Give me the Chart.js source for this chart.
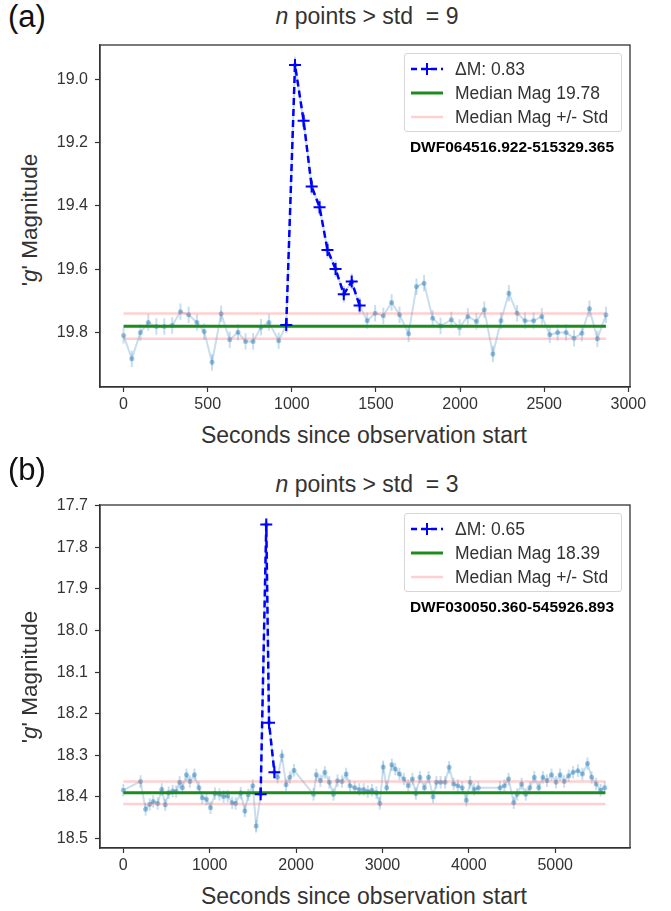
<!DOCTYPE html>
<html><head><meta charset="utf-8">
<script src="https://cdn.jsdelivr.net/npm/chart.js@4.4.1/dist/chart.umd.min.js"></script>
<style>
html,body{margin:0;padding:0;background:#fff;}
body{width:671px;height:911px;position:relative;overflow:hidden;font-family:"Liberation Sans",Arial,Helvetica,sans-serif;}
canvas{position:absolute;left:0;}
.t{position:absolute;white-space:nowrap;color:#333;transform:translate(-50%,-50%);line-height:1;}
.lab{position:absolute;white-space:nowrap;color:#111;font-size:31px;line-height:1;transform:translateY(-50%);}
.leg{position:absolute;border:1px solid #d6d6d6;border-radius:3px;background:rgba(255,255,255,0.85);box-sizing:border-box;}
.row{position:absolute;left:0;height:20px;transform:translateY(-50%);}
.row svg{position:absolute;left:5px;top:4px;}
.row span{position:absolute;left:50px;top:1px;font-size:17.5px;color:#333;white-space:nowrap;line-height:18px;}
.obj{position:absolute;white-space:nowrap;font-weight:bold;font-size:15.5px;color:#000;transform:translate(-50%,-50%);line-height:1;}
</style>
</head><body>

<div class="lab" style="left:8px;top:16px">(a)</div>
<div class="t" style="left:367px;top:16px;font-size:23px"><i>n</i> points &gt; std&nbsp; = 9</div>
<div class="t" style="left:30px;top:220px;font-size:22.5px;transform:translate(-50%,-50%) rotate(-90deg)">'<i>g</i>' Magnitude</div>
<div class="t" style="left:364px;top:435px;font-size:23px">Seconds since observation start</div>
<canvas id="ca" width="671" height="455" style="top:0"></canvas>
<div id="legA" class="leg" style="left:404px;top:53px;width:218px;height:79px"></div>
<div class="obj" style="left:512px;top:147px" id="objA"></div>

<div class="lab" style="left:8px;top:469px">(b)</div>
<div class="t" style="left:367px;top:484px;font-size:23px"><i>n</i> points &gt; std&nbsp; = 3</div>
<div class="t" style="left:30px;top:677px;font-size:22.5px;transform:translate(-50%,-50%) rotate(-90deg)">'<i>g</i>' Magnitude</div>
<div class="t" style="left:364px;top:896px;font-size:23px">Seconds since observation start</div>
<canvas id="cb" width="671" height="456" style="top:455px"></canvas>
<div id="legB" class="leg" style="left:404px;top:513px;width:218px;height:79px"></div>
<div class="obj" style="left:512px;top:607px" id="objB"></div>

<script>
// ---------- Panel (a) data ----------
const timeA = [0,49,100,147,195,242,289,338,387,436,479,526,580,631,680,725,770,817,864,922,967,1019,1070,1118,1165,1212,1260,1309,1356,1403,1448,1495,1544,1593,1640,1694,1741,1786,1837,1884,1948,1997,2046,2097,2144,2195,2243,2290,2339,2386,2437,2486,2533,2580,2630,2677,2724,2769,2816,2867];
const magA = [19.809,19.883,19.800,19.768,19.781,19.781,19.778,19.734,19.744,19.768,19.797,19.894,19.741,19.823,19.799,19.828,19.828,19.783,19.768,19.826,19.776,18.955,19.131,19.339,19.404,19.539,19.599,19.679,19.639,19.715,19.763,19.739,19.747,19.705,19.744,19.804,19.655,19.644,19.755,19.779,19.760,19.784,19.749,19.765,19.728,19.868,19.763,19.676,19.739,19.763,19.763,19.749,19.807,19.800,19.800,19.818,19.802,19.725,19.820,19.744];
const errA = 0.026;
const flareTimeA = [967,1019,1070,1118,1165,1212,1260,1309,1356,1403];
const flareMagA = [19.776,18.955,19.131,19.339,19.404,19.539,19.599,19.679,19.639,19.715];
const medianA = 19.78, stdA = 0.04, spanA = [0, 2867];
const xTicksA = [0,500,1000,1500,2000,2500,3000];
const yTicksA = [19.0,19.2,19.4,19.6,19.8];
const legendA = ["\u0394M: 0.83","Median Mag 19.78","Median Mag +/- Std"];
const nameA = "DWF064516.922-515329.365";

// ---------- Panel (b) data ----------
const timeB = [0,199,258,306,346,398,445,485,525,572,612,652,684,731,771,823,875,914,962,1010,1061,1113,1161,1208,1260,1300,1359,1407,1447,1499,1538,1590,1655,1687,1749,1785,1836,1884,1928,1976,2202,2234,2282,2333,2385,2433,2480,2532,2580,2624,2679,2731,2783,2830,2878,2930,2969,3009,3049,3108,3148,3196,3248,3299,3347,3387,3434,3486,3534,3586,3625,3673,3725,3772,3824,3872,3923,3971,4015,4062,4110,4361,4412,4460,4520,4559,4611,4659,4706,4758,4810,4858,4905,4957,5009,5056,5104,5156,5207,5263,5315,5374,5422,5474,5525,5573];
const magB = [18.384,18.363,18.430,18.418,18.411,18.416,18.382,18.419,18.390,18.386,18.387,18.365,18.378,18.347,18.363,18.347,18.378,18.402,18.406,18.426,18.392,18.394,18.399,18.398,18.414,18.416,18.391,18.434,18.395,18.373,18.470,18.394,17.745,18.222,18.341,18.353,18.301,18.371,18.353,18.336,18.394,18.347,18.361,18.341,18.365,18.394,18.361,18.363,18.345,18.373,18.378,18.382,18.382,18.387,18.384,18.390,18.416,18.328,18.378,18.323,18.333,18.345,18.357,18.373,18.357,18.392,18.353,18.378,18.353,18.400,18.365,18.365,18.365,18.329,18.369,18.373,18.378,18.408,18.365,18.382,18.378,18.378,18.373,18.357,18.414,18.394,18.369,18.394,18.378,18.353,18.378,18.353,18.361,18.347,18.365,18.347,18.363,18.349,18.341,18.337,18.345,18.320,18.353,18.369,18.384,18.378];
const errB = 0.015;
const flareTimeB = [1590,1655,1687,1749];
const flareMagB = [18.394,17.745,18.222,18.341];
const medianB = 18.39, stdB = 0.027, spanB = [0, 5580];
const xTicksB = [0,1000,2000,3000,4000,5000];
const yTicksB = [17.7,17.8,17.9,18.0,18.1,18.2,18.3,18.4,18.5];
const legendB = ["\u0394M: 0.65","Median Mag 18.39","Median Mag +/- Std"];
const nameB = "DWF030050.360-545926.893";

// ---------- styles ----------
const FLARE = '#0000ff', MED = '#1c8c1c', PINK = 'rgba(255,110,110,0.32)';
const LC_LINE = 'rgba(31,119,180,0.24)', LC_PT = 'rgba(31,119,180,0.42)';

Chart.defaults.font.family = '"Liberation Sans", Arial, Helvetica, sans-serif';
Chart.defaults.color = '#333';

const frame = {id:'frame', afterDatasetsDraw(c){
  const a=c.chartArea, ctx=c.ctx; ctx.save(); ctx.strokeStyle='#333'; ctx.lineWidth=1.3;
  ctx.strokeRect(a.left,a.top,a.right-a.left,a.bottom-a.top); ctx.restore();}};

const errorBars = {id:'errorBars', beforeDatasetsDraw(c, args, o){
  if(!o || o.index==null) return;
  const ds=c.data.datasets[o.index], xs=c.scales.x, ys=c.scales.y, ctx=c.ctx, a=c.chartArea;
  ctx.save(); ctx.beginPath(); ctx.rect(a.left,a.top,a.right-a.left,a.bottom-a.top); ctx.clip();
  ctx.strokeStyle=o.color; ctx.lineWidth=o.width;
  ds.data.forEach(p=>{ const px=xs.getPixelForValue(p.x);
    ctx.beginPath(); ctx.moveTo(px, ys.getPixelForValue(p.y-o.err)); ctx.lineTo(px, ys.getPixelForValue(p.y+o.err)); ctx.stroke(); });
  ctx.restore();}};

function pts(xs, ys){ return xs.map((x,i)=>({x:x, y:ys[i]})); }

function build(id, o){
  const gridCfg = {drawOnChartArea:false, drawTicks:true, tickLength:5, color:'#333', tickWidth:1.2};
  return new Chart(document.getElementById(id), {
    type:'line',
    data:{datasets:[
      {label:o.legend[0], data:pts(o.flareT,o.flareM), borderColor:FLARE, borderWidth:2.5, borderDash:[7,4],
       pointStyle:'cross', pointRadius:6, pointBorderWidth:2, pointBorderColor:FLARE, pointBackgroundColor:FLARE, fill:false, tension:0},
      {label:o.legend[1], data:pts(o.span,[o.median,o.median]), borderColor:MED, borderWidth:3, pointRadius:0, fill:false},
      {label:o.legend[2], data:pts(o.span,[o.median-o.std,o.median-o.std]), borderColor:PINK, borderWidth:2.5, pointRadius:0, fill:false},
      {label:'', data:pts(o.span,[o.median+o.std,o.median+o.std]), borderColor:PINK, borderWidth:2.5, pointRadius:0, fill:false},
      {label:'light curve', data:pts(o.t,o.m), borderColor:LC_LINE, borderWidth:2, pointRadius:2.5,
       pointBackgroundColor:LC_PT, pointBorderWidth:0, fill:false, tension:0}
    ]},
    options:{
      responsive:false, animation:false, devicePixelRatio:1,
      layout:{padding:{top:o.padTop, right:41, left:0, bottom:0}},
      plugins:{legend:{display:false}, tooltip:{enabled:false}, title:{display:false},
        errorBars:{index:4, err:o.err, color:LC_LINE, width:2}},
      scales:{
        x:{type:'linear', min:o.xmin, max:o.xmax,
           afterFit(s){ s.height=o.xh; },
           afterBuildTicks(s){ s.ticks=o.xticks.map(v=>({value:v})); },
           ticks:{font:{size:16}, color:'#333', padding:3, maxRotation:0, autoSkip:false, callback:v=>String(v)},
           grid:gridCfg, border:{display:true, color:'#333', width:1.3}},
        y:{type:'linear', reverse:true, min:o.ymin, max:o.ymax,
           afterFit(s){ s.width=100; },
           afterBuildTicks(s){ s.ticks=o.yticks.map(v=>({value:v})); },
           ticks:{font:{size:16}, color:'#333', padding:7, autoSkip:false, callback:v=>Number(v).toFixed(1)},
           grid:gridCfg, border:{display:true, color:'#333', width:1.3}}
      }
    },
    plugins:[errorBars, frame]
  });
}

build('ca', {t:timeA, m:magA, err:errA, flareT:flareTimeA, flareM:flareMagA, median:medianA, std:stdA, span:spanA,
  xticks:xTicksA, yticks:yTicksA, legend:legendA, xmin:-140, xmax:3010, ymin:18.892, ymax:19.972, padTop:45, xh:68});
build('cb', {t:timeB, m:magB, err:errB, flareT:flareTimeB, flareM:flareMagB, median:medianB, std:stdB, span:spanB,
  xticks:xTicksB, yticks:yTicksB, legend:legendB, xmin:-270, xmax:5866, ymin:17.698, ymax:18.523, padTop:50, xh:63});

// ---------- HTML legends ----------
function legendHTML(labels){
  const samples = [
    '<svg width="34" height="12"><line x1="1" y1="6" x2="33" y2="6" stroke="'+FLARE+'" stroke-width="2.5" stroke-dasharray="6,4"/><line x1="17" y1="0" x2="17" y2="12" stroke="'+FLARE+'" stroke-width="2"/><line x1="11" y1="6" x2="23" y2="6" stroke="'+FLARE+'" stroke-width="2"/></svg>',
    '<svg width="34" height="12"><line x1="1" y1="6" x2="33" y2="6" stroke="'+MED+'" stroke-width="3"/></svg>',
    '<svg width="34" height="12"><line x1="1" y1="6" x2="33" y2="6" stroke="'+PINK+'" stroke-width="2.5"/></svg>'
  ];
  const tops=[15,39,63];
  return labels.map((l,i)=>'<div class="row" style="top:'+tops[i]+'px;width:100%">'+samples[i]+'<span>'+l+'</span></div>').join('');
}
document.getElementById('legA').innerHTML = legendHTML(legendA);
document.getElementById('legB').innerHTML = legendHTML(legendB);
document.getElementById('objA').textContent = nameA;
document.getElementById('objB').textContent = nameB;
</script>
</body></html>
